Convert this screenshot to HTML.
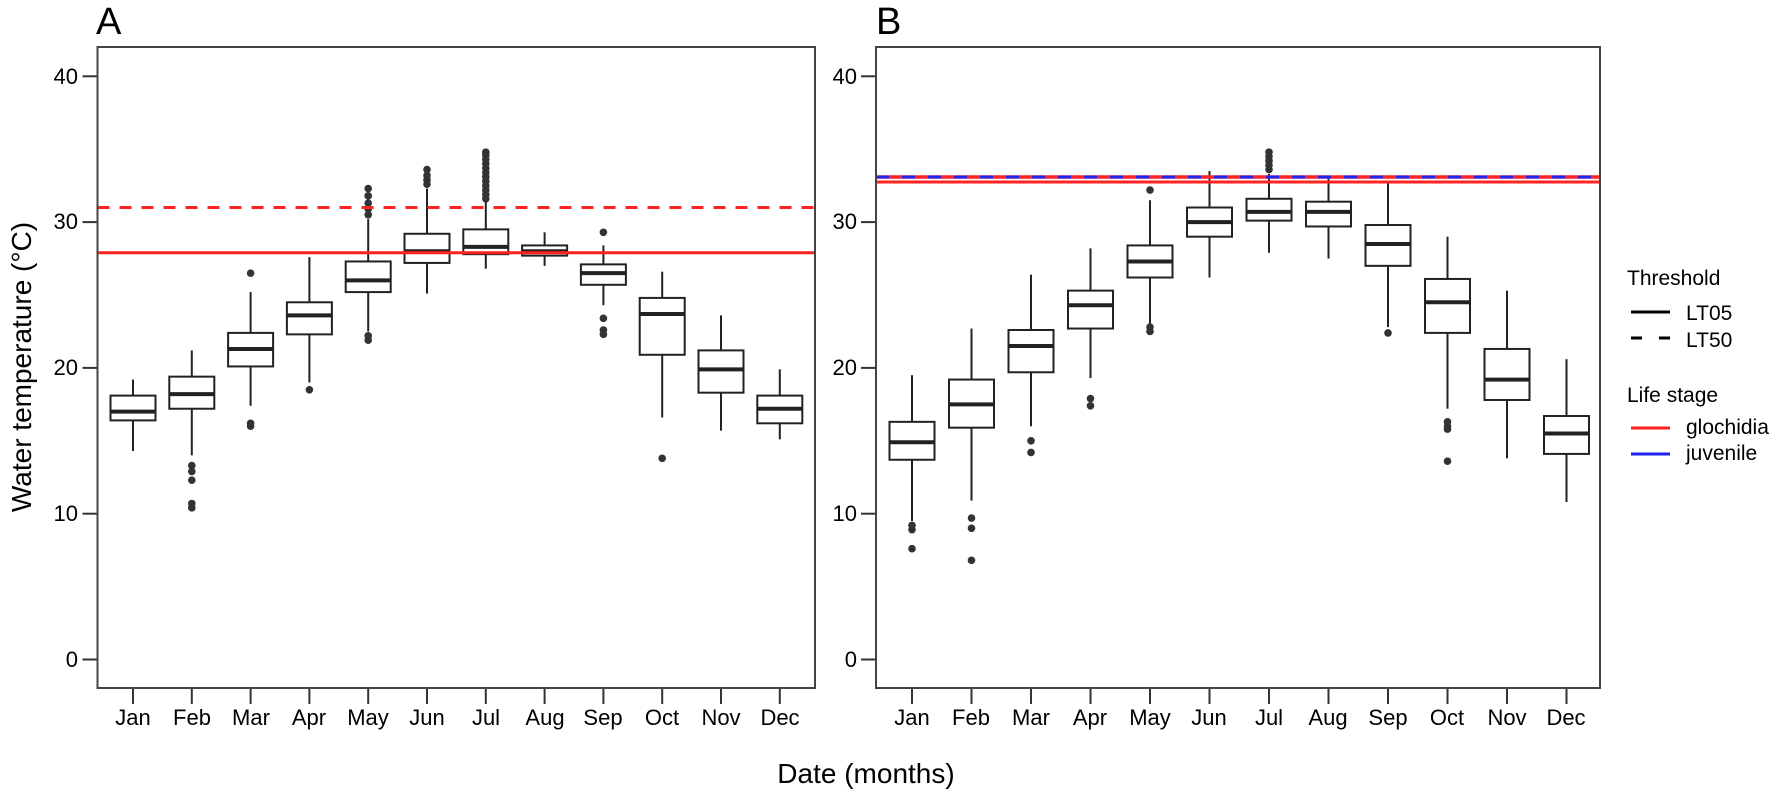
<!DOCTYPE html>
<html><head><meta charset="utf-8"><style>
html,body{margin:0;padding:0;background:#fff;}
svg{display:block;font-family:"Liberation Sans",Arial,sans-serif;}
</style></head><body>
<svg id="s" width="1778" height="798" viewBox="0 0 1778 798" xmlns="http://www.w3.org/2000/svg">
<rect width="1778" height="798" fill="#fff"/>
<text x="96" y="34" font-size="38">A</text>
<text x="876" y="34" font-size="38">B</text>
<text transform="translate(31,367) rotate(-90)" font-size="28" text-anchor="middle">Water temperature (°C)</text>
<text x="866" y="783" font-size="28" text-anchor="middle">Date (months)</text>
<g font-size="22" text-anchor="end">
<text x="78" y="84">40</text><text x="78" y="229">30</text><text x="78" y="375">20</text><text x="78" y="521">10</text><text x="78" y="667">0</text>
<text x="857" y="84">40</text><text x="857" y="229">30</text><text x="857" y="375">20</text><text x="857" y="521">10</text><text x="857" y="667">0</text>
</g>
<g font-size="22" text-anchor="middle">
<text x="133" y="725">Jan</text><text x="192" y="725">Feb</text><text x="251" y="725">Mar</text><text x="309" y="725">Apr</text><text x="368" y="725">May</text><text x="427" y="725">Jun</text><text x="486" y="725">Jul</text><text x="545" y="725">Aug</text><text x="603" y="725">Sep</text><text x="662" y="725">Oct</text><text x="721" y="725">Nov</text><text x="780" y="725">Dec</text>
<text x="912" y="725">Jan</text><text x="971" y="725">Feb</text><text x="1031" y="725">Mar</text><text x="1090" y="725">Apr</text><text x="1150" y="725">May</text><text x="1209" y="725">Jun</text><text x="1269" y="725">Jul</text><text x="1328" y="725">Aug</text><text x="1388" y="725">Sep</text><text x="1447" y="725">Oct</text><text x="1507" y="725">Nov</text><text x="1566" y="725">Dec</text>
</g>
<g font-size="21">
<text x="1627" y="285">Threshold</text>
<text x="1686" y="320">LT05</text>
<text x="1686" y="347">LT50</text>
<text x="1627" y="402">Life stage</text>
<text x="1686" y="434">glochidia</text>
<text x="1686" y="460">juvenile</text>
</g>
<line x1="1631" y1="312" x2="1670" y2="312" stroke="#000" stroke-width="3"/>
<line x1="1631" y1="338" x2="1670" y2="338" stroke="#000" stroke-width="3" stroke-dasharray="11 17"/>
<line x1="1631" y1="428" x2="1670" y2="428" stroke="#f22" stroke-width="3"/>
<line x1="1631" y1="454" x2="1670" y2="454" stroke="#22e" stroke-width="3"/>
<g id="g"></g>
</svg>
<script>
var g=document.getElementById('g'),NS='http://www.w3.org/2000/svg';
function Y(v){return 659.5-14.58*v;}
function el(t,a){var e=document.createElementNS(NS,t);for(var k in a)e.setAttribute(k,a[k]);g.appendChild(e);return e;}
function ln(x1,y1,x2,y2,c,w,d){var a={x1:x1,y1:y1,x2:x2,y2:y2,stroke:c,'stroke-width':w};if(d)a['stroke-dasharray']=d;el('line',a);}
var A=[[14.3,16.4,17.0,18.1,19.2,[]],[14,17.2,18.2,19.4,21.2,[13.3,12.9,12.3,10.7,10.4]],[17.4,20.1,21.3,22.4,25.2,[26.5,16.2,16.0]],[19,22.3,23.6,24.5,27.6,[18.5]],[22.5,25.2,26.0,27.3,30.2,[30.5,30.9,31.3,31.8,32.3,22.2,21.9]],[25.1,27.2,28.0,29.2,32.3,[32.6,32.9,33.2,33.6]],[26.8,27.8,28.3,29.5,31.4,[31.6,31.9,32.2,32.5,32.8,33.1,33.4,33.7,34.0,34.3,34.6,34.8]],[27.0,27.7,28.0,28.4,29.3,[]],[24.3,25.7,26.5,27.1,28.4,[29.3,23.4,22.6,22.3]],[16.6,20.9,23.7,24.8,26.6,[13.8]],[15.7,18.3,19.9,21.2,23.6,[]],[15.1,16.2,17.2,18.1,19.9,[]]];
var B=[[9.5,13.7,14.9,16.3,19.5,[9.2,8.9,7.6]],[10.9,15.9,17.5,19.2,22.7,[9.7,9.0,6.8]],[16,19.7,21.5,22.6,26.4,[15.0,14.2]],[19.3,22.7,24.3,25.3,28.2,[17.9,17.4]],[23,26.2,27.3,28.4,31.5,[32.2,22.8,22.5]],[26.2,29,30,31,33.5,[]],[27.9,30.1,30.7,31.6,33.3,[33.6,33.9,34.2,34.5,34.8]],[27.5,29.7,30.7,31.4,33.1,[]],[22.8,27,28.5,29.8,32.7,[22.4]],[17.2,22.4,24.5,26.1,29,[16.3,16.0,15.8,13.6]],[13.8,17.8,19.2,21.3,25.3,[]],[10.8,14.1,15.5,16.7,20.6,[]]];
function panel(L,R,x0,dx,data){
 // ticks
 [0,10,20,30,40].forEach(function(v){ln(L-15,Y(v),L,Y(v),'#333',2);});
 data.forEach(function(d,i){
  var x=x0+dx*i;
  ln(x,688,x,704,'#333',2);
  ln(x,Y(d[0]),x,Y(d[1]),'#222',2);ln(x,Y(d[3]),x,Y(d[4]),'#222',2);
  el('rect',{x:x-22.5,y:Y(d[3]),width:45,height:Y(d[1])-Y(d[3]),fill:'#fff',stroke:'#222','stroke-width':2});
  ln(x-22.5,Y(d[2]),x+22.5,Y(d[2]),'#222',4);
  d[5].forEach(function(o){el('circle',{cx:x,cy:Y(o),r:3.8,fill:'#333'});});
 });
}
panel(97.5,815,133,58.8,A);
panel(876,1600,912,59.5,B);
// threshold lines
ln(97.5,Y(27.9),815,Y(27.9),'#f22',3);
ln(97.5,Y(31.0),815,Y(31.0),'#f22',3,'12 10');
ln(876,177,1600,177,'#f22',3.5);
ln(876,177,1600,177,'#22e',3,'13 13');
ln(876,182,1600,182,'#f22',3);
el('rect',{x:97.5,y:47,width:717.5,height:641,fill:'none',stroke:'#444','stroke-width':2});
el('rect',{x:876,y:47,width:724,height:641,fill:'none',stroke:'#444','stroke-width':2});
</script>
</body></html>
